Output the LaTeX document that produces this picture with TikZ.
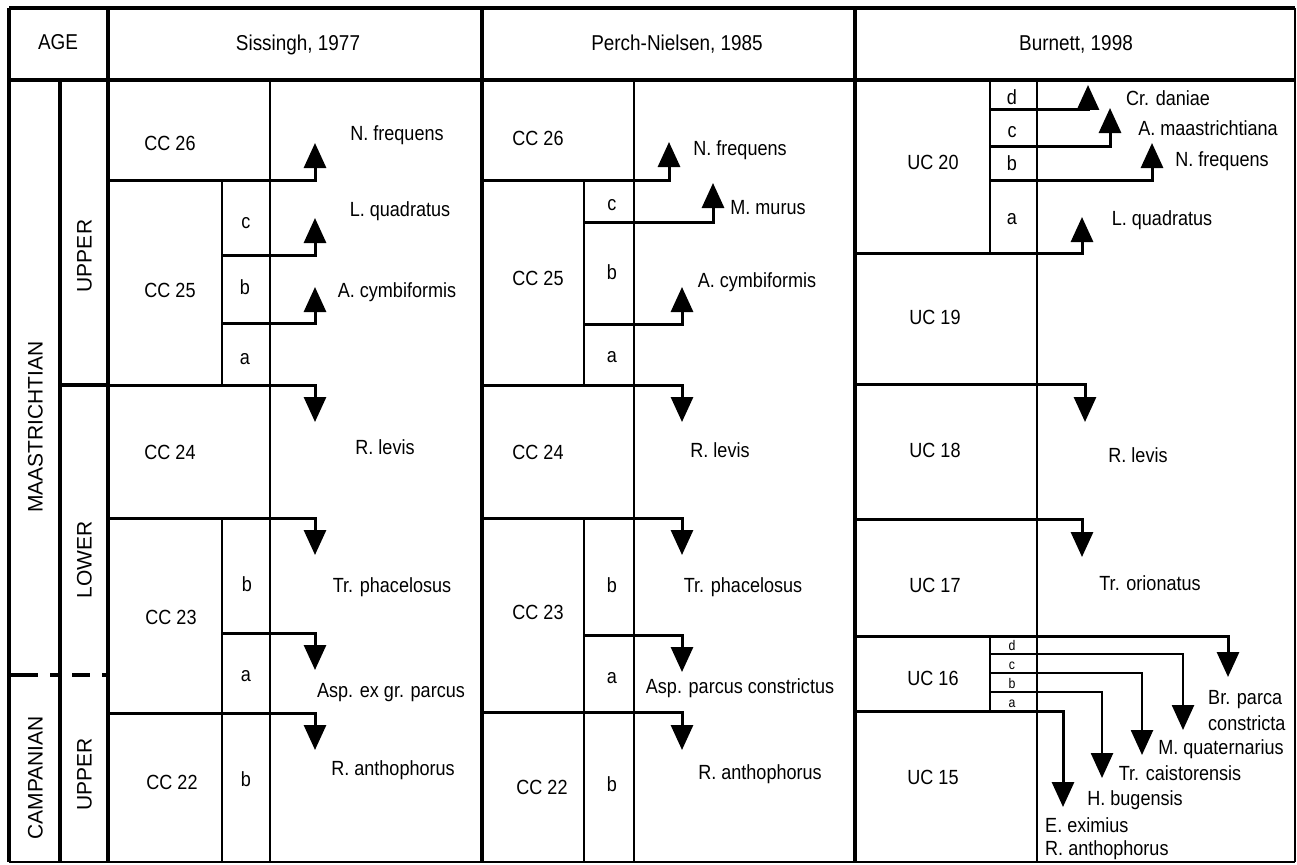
\documentclass[tikz,border=0pt]{standalone}
\usepackage{fontspec}
\usetikzlibrary{arrows.meta}
\newfontfamily\bodyf{Liberation Sans}[FakeStretch=0.88]
\newfontfamily\rotf{Liberation Sans}
\begin{document}
\begin{tikzpicture}[x=1pt,y=-1pt,
  thk/.style={line width=3.3pt},
  thn/.style={line width=2.2pt},
  arr/.style={line width=3pt,-{Triangle[width=22pt,length=25pt]}},
  sarr/.style={line width=2.6pt,-{Triangle[width=22pt,length=25pt]}},
  lbl/.style={font=\bodyf\fontsize{20.5}{24}\selectfont,inner sep=0pt,text height=15pt,text depth=0pt},
  hdr/.style={font=\bodyf\fontsize{21.5}{26}\selectfont,inner sep=0pt,text height=15.5pt,text depth=0pt},
  rot/.style={font=\rotf\fontsize{21}{25}\selectfont,inner sep=0pt,rotate=90,text height=15pt,text depth=0pt},
  tiny/.style={font=\bodyf\fontsize{14}{14}\selectfont,inner sep=0pt,text height=10pt,text depth=0pt},
  ml/.style={lbl,align=left,text depth=0pt}
]
\useasboundingbox (0,0) rectangle (1297,864);
\fill[white] (0,0) rectangle (1297,864);

% frame and columns
\draw[thk] (9,8) -- (1295,8);
\draw[thk] (9,8) -- (9,862);
\draw[thn] (1295,8) -- (1295,862);
\draw[thn] (9,862) -- (1295,862);
\draw[thk] (9,80) -- (1295,80);
\draw[thk] (108,8) -- (108,862);
\draw[thk] (482,8) -- (482,862);
\draw[thk] (855,8) -- (855,862);
\draw[thk] (60,80) -- (60,862);
\draw[thn] (270,80) -- (270,862);
\draw[thn] (634,80) -- (634,862);
\draw[thn] (1037,80) -- (1037,862);

% sub-zone columns
\draw[thn] (222,180) -- (222,385);
\draw[thn] (222,518) -- (222,862);
\draw[thn] (584,180) -- (584,385);
\draw[thn] (584,518) -- (584,862);
\draw[thn] (990,80) -- (990,253);
\draw[thn] (990,636) -- (990,711);

% age boundaries
\draw[thk] (60,385) -- (108,385);
\foreach \a/\b in {9/38,50/60,72/90,102/108}{\draw[line width=4pt] (\a,675) -- (\b,675);}

% Sissingh arrows
\draw[arr] (108,180) -| (315,143);
\draw[arr] (222,255) -| (315,218);
\draw[arr] (222,323) -| (315,287);
\draw[arr] (60,385) -| (315,422);
\draw[arr] (108,518) -| (315,555);
\draw[arr] (222,633) -| (315,670);
\draw[arr] (108,713) -| (315,750);

% Perch-Nielsen arrows
\draw[arr] (482,180) -| (669,142);
\draw[arr] (584,222) -| (713,183);
\draw[arr] (584,324) -| (682,287);
\draw[arr] (482,385) -| (682,422);
\draw[arr] (482,518) -| (682,555);
\draw[arr] (584,635) -| (682,672);
\draw[arr] (482,712) -| (682,750);

% Burnett arrows
\draw[arr] (990,110) -| (1088,85);
\draw[arr] (990,146) -| (1110,108);
\draw[arr] (990,180) -| (1152,143);
\draw[arr] (855,253) -| (1082,217);
\draw[arr] (855,384) -| (1085,422);
\draw[arr] (855,519) -| (1082,557);
\draw[arr] (855,636) -| (1228,677);
\draw[sarr] (990,654) -| (1183,730);
\draw[sarr] (990,673) -| (1142,755);
\draw[sarr] (990,692) -| (1102,778);
\draw[arr] (855,711) -| (1063,807);

% header
\node[hdr] (hage) at (58,42) {AGE};
\node[hdr] (hsis) at (298,43) {Sissingh, 1977};
\node[hdr] (hpn) at (677,43) {Perch-Nielsen, 1985};
\node[hdr] (hbur) at (1076,43) {Burnett, 1998};

% age column
\node[rot] (maas) at (35,427) {MAASTRICHTIAN};
\node[rot] (camp) at (35,778) {CAMPANIAN};
\node[rot] (mup) at (84,256) {UPPER};
\node[rot] (mlow) at (84,560) {LOWER};
\node[rot] (cup) at (84,774) {UPPER};

% Sissingh labels
\node[lbl] (s26) at (170,143) {CC 26};
\node[lbl] (s25) at (170,290) {CC 25};
\node[lbl] (s24) at (170,452) {CC 24};
\node[lbl] (s23) at (171,617) {CC 23};
\node[lbl] (s22) at (172,782) {CC 22};
\node[lbl] (s25c) at (246,221) {c};
\node[lbl] (s25b) at (245,287) {b};
\node[lbl] (s25a) at (245,357) {a};
\node[lbl] (s23b) at (247,584) {b};
\node[lbl] (s23a) at (246,674) {a};
\node[lbl] (s22b) at (246,779) {b};
\node[lbl] (st1) at (397,133) {N. frequens};
\node[lbl] (st2) at (400,209) {L. quadratus};
\node[lbl] (st3) at (397,290) {A. cymbiformis};
\node[lbl] (st4) at (385,447) {R. levis};
\node[lbl] (st5) at (392,585) {Tr. phacelosus};
\node[lbl] (st6) at (391,690) {Asp. ex gr. parcus};
\node[lbl] (st7) at (393,768) {R. anthophorus};

% Perch-Nielsen labels
\node[lbl] (p26) at (538,138) {CC 26};
\node[lbl] (p25) at (538,278) {CC 25};
\node[lbl] (p24) at (538,452) {CC 24};
\node[lbl] (p23) at (538,612) {CC 23};
\node[lbl] (p22) at (542,787) {CC 22};
\node[lbl] (p25c) at (612,203) {c};
\node[lbl] (p25b) at (612,272) {b};
\node[lbl] (p25a) at (612,355) {a};
\node[lbl] (p23b) at (612,585) {b};
\node[lbl] (p23a) at (612,676) {a};
\node[lbl] (p22b) at (612,784) {b};
\node[lbl] (pt1) at (740,148) {N. frequens};
\node[lbl] (pt2) at (768,207) {M. murus};
\node[lbl] (pt3) at (757,280) {A. cymbiformis};
\node[lbl] (pt4) at (720,450) {R. levis};
\node[lbl] (pt5) at (743,585) {Tr. phacelosus};
\node[lbl] (pt6) at (740,686) {Asp. parcus constrictus};
\node[lbl] (pt7) at (760,772) {R. anthophorus};

% Burnett labels
\node[lbl] (u20) at (933,162) {UC 20};
\node[lbl] (u19) at (935,317) {UC 19};
\node[lbl] (u18) at (935,450) {UC 18};
\node[lbl] (u17) at (935,585) {UC 17};
\node[lbl] (u16) at (933,678) {UC 16};
\node[lbl] (u15) at (933,777) {UC 15};
\node[lbl] (u20d) at (1012,97) {d};
\node[lbl] (u20c) at (1012,130) {c};
\node[lbl] (u20b) at (1012,163) {b};
\node[lbl] (u20a) at (1012,217) {a};
\node[tiny] (u16d) at (1012,645) {d};
\node[tiny] (u16c) at (1012,664) {c};
\node[tiny] (u16b) at (1012,683) {b};
\node[tiny] (u16a) at (1012,702) {a};
\node[lbl] (bt1) at (1168,98) {Cr. daniae};
\node[lbl] (bt2) at (1208,128) {A. maastrichtiana};
\node[lbl] (bt3) at (1222,159) {N. frequens};
\node[lbl] (bt4) at (1162,218) {L. quadratus};
\node[lbl] (bt5) at (1138,455) {R. levis};
\node[lbl] (bt6) at (1150,583) {Tr. orionatus};
\node[lbl,anchor=west] (bt7a) at (1208,697) {Br. parca};
\node[lbl,anchor=west] (bt7b) at (1208,723) {constricta};
\node[lbl] (bt8) at (1221,747) {M. quaternarius};
\node[lbl] (bt9) at (1180,773) {Tr. caistorensis};
\node[lbl] (bt10) at (1135,798) {H. bugensis};
\node[lbl,anchor=west] (bt11) at (1045,825) {E. eximius};
\node[lbl,anchor=west] (bt12) at (1045,848) {R. anthophorus};
\end{tikzpicture}
\end{document}
